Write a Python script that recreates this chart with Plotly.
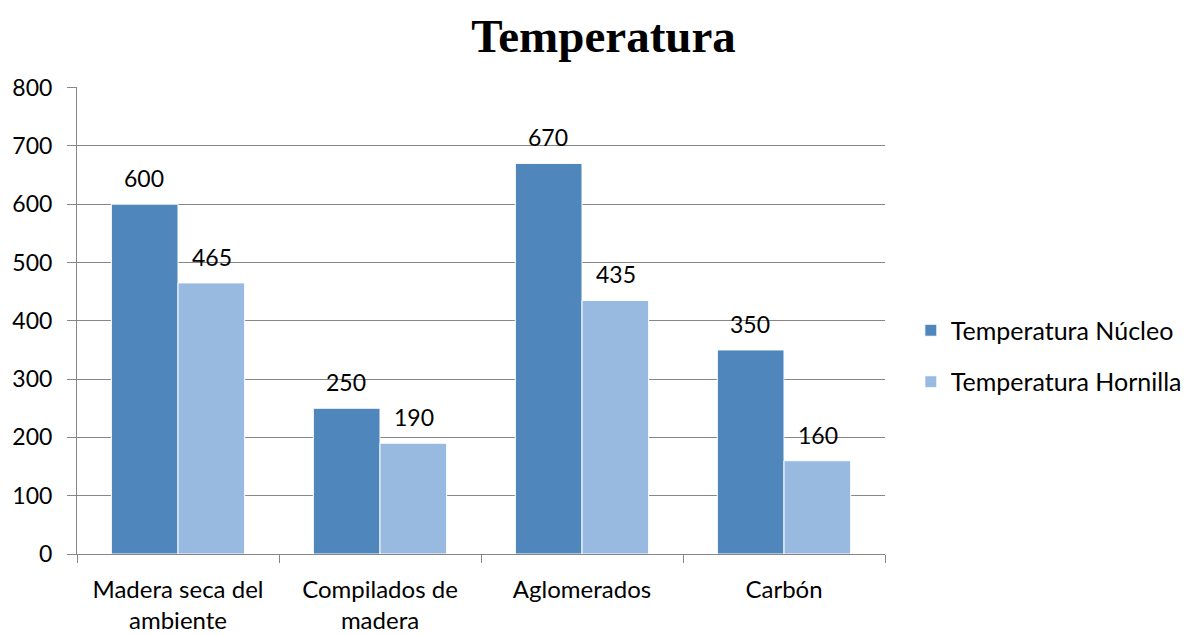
import plotly.graph_objects as go

""" Data """
categories = ["Madera seca del<br>ambiente", "Compilados de<br>madera", "Aglomerados", "Carbón"]
nucleo = [600, 250, 670, 350]
hornilla = [465, 190, 435, 160]

series_names = ["Temperatura Núcleo", "Temperatura Hornilla"]
colors = ["#4F86BC", "#98B9E0"]

font_main = "Lato, 'Open Sans', sans-serif"

""" Figure """
fig = go.Figure()
for name, vals, col in zip(series_names, [nucleo, hornilla], colors):
    fig.add_trace(go.Bar(x=categories, y=vals, name=name, legendgroup=name,
                         marker=dict(color=col, line=dict(color="white", width=1))))

# data labels floating above bars
for vals, shift in [(nucleo, -34), (hornilla, 34)]:
    for cat, v in zip(categories, vals):
        fig.add_annotation(x=cat, y=v, text=str(v), showarrow=False,
                           xshift=shift, yshift=26,
                           font=dict(size=23, color="black", family=font_main))

fig.update_layout(
    width=1191, height=635,
    margin=dict(l=69, r=308, t=79, b=89),
    plot_bgcolor="white", paper_bgcolor="white",
    barmode="group", bargap=0.34, bargroupgap=0,
    title=dict(text="<b>Temperatura</b>", x=0.5, xanchor="center",
               y=1 - 28 / 635, yanchor="middle",
               font=dict(family="'Liberation Serif', 'Times New Roman', serif", size=47, color="black")),
    font=dict(family=font_main, size=23, color="black"),
    legend=dict(x=1.032, y=0.424, xanchor="left", yanchor="middle",
                font=dict(size=25), traceorder="grouped", tracegroupgap=16, itemwidth=30),
    showlegend=True,
)

fig.update_yaxes(range=[0, 801], dtick=100, showgrid=True, gridcolor="#868686", gridwidth=1,
                 showline=True, linecolor="#868686", linewidth=1,
                 ticks="outside", ticklen=9, tickcolor="#868686", automargin=False,
                 zeroline=False, tickfont=dict(size=23), ticklabelstandoff=10)
fig.update_xaxes(showline=True, linecolor="#868686", linewidth=1,
                 ticks="outside", ticklen=8, tickcolor="#868686", tickson="boundaries",
                 automargin=False, tickfont=dict(size=24), ticklabelstandoff=14)

fig.write_html("out.html")
